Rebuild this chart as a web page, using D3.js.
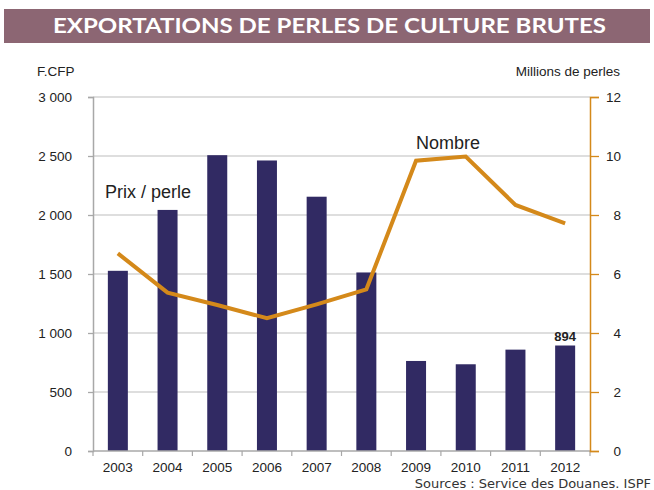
<!DOCTYPE html>
<html>
<head>
<meta charset="utf-8">
<script src="https://cdn.jsdelivr.net/npm/d3@7"></script>
<style>
  body { margin: 0; background: #fff; }
  svg { display: block; font-family: "Liberation Sans", Arial, sans-serif; }
</style>
</head>
<body>
<div id="chart"></div>
<script>
// Data
const years = ["2003", "2004", "2005", "2006", "2007", "2008", "2009", "2010", "2011", "2012"];
const prixParPerle = [1527, 2043, 2507, 2462, 2155, 1513, 763, 735, 859, 894];   // F.CFP (bars)
const nombre = [6.7, 5.37, 4.95, 4.5, 4.97, 5.48, 9.84, 9.98, 8.34, 7.72];       // millions (line)
const leftTicks = [0, 500, 1000, 1500, 2000, 2500, 3000];
const rightTicks = [0, 2, 4, 6, 8, 10, 12];

const W = 654, H = 490;
const margin = { top: 97, right: 64, bottom: 39, left: 93 };
const width = W - margin.left - margin.right;
const height = H - margin.top - margin.bottom;

const svg = d3.select("#chart").append("svg")
    .attr("width", W)
    .attr("height", H);

// Title banner
svg.append("rect")
    .attr("x", 4).attr("y", 9)
    .attr("width", 646).attr("height", 34)
    .attr("fill", "#8c6673");
svg.append("text")
    .attr("x", 53).attr("y", 33)
    .attr("fill", "#fff")
    .attr("font-family", "Lato, 'Open Sans', sans-serif")
    .attr("font-weight", "bold")
    .attr("font-size", 21)
    .attr("textLength", 553)
    .attr("lengthAdjust", "spacingAndGlyphs")
    .text("EXPORTATIONS DE PERLES DE CULTURE BRUTES");

const g = svg.append("g").attr("transform", `translate(${margin.left},${margin.top})`);

const xb = d3.scaleBand().domain(years).range([0, width]);
const yL = d3.scaleLinear().domain([0, 3000]).range([height, 0]);
const yR = d3.scaleLinear().domain([0, 12]).range([height, 0]);

// Gridlines
g.append("g")
    .selectAll("line")
    .data(leftTicks.filter(d => d > 0))
    .join("line")
    .attr("x1", 0).attr("x2", width)
    .attr("y1", d => yL(d)).attr("y2", d => yL(d))
    .attr("stroke", "#d3d3d3")
    .attr("stroke-width", 1.3);

// Bars
g.append("g")
    .selectAll("rect")
    .data(prixParPerle)
    .join("rect")
    .attr("x", (d, i) => xb(years[i]) + xb.bandwidth() / 2 - 10)
    .attr("width", 20)
    .attr("y", d => yL(d))
    .attr("height", d => height - yL(d))
    .attr("fill", "#312a63");

// Left axis
const leftAxis = g.append("g")
    .call(d3.axisLeft(yL).tickValues(leftTicks).tickSize(5).tickPadding(16)
        .tickFormat(d => d3.format(",")(d).replace(",", " ")));
leftAxis.select(".domain").attr("stroke", "#a8a8a8").attr("stroke-width", 1.5);
leftAxis.selectAll(".tick line").attr("stroke", "#a8a8a8").attr("stroke-width", 1.3);
leftAxis.selectAll("text").attr("font-size", 13.5).attr("fill", "#222")
    .attr("font-family", "'Liberation Sans', Arial, sans-serif");

// X axis with ticks between categories
const xAxis = g.append("g").attr("transform", `translate(0,${height})`);
xAxis.append("line")
    .attr("x1", 0).attr("x2", width)
    .attr("stroke", "#a8a8a8").attr("stroke-width", 1.5);
xAxis.selectAll(".bt")
    .data(years.concat(["end"]))
    .join("line")
    .attr("class", "bt")
    .attr("x1", (d, i) => i < years.length ? xb(d) : width)
    .attr("x2", (d, i) => i < years.length ? xb(d) : width)
    .attr("y1", 0).attr("y2", 5)
    .attr("stroke", "#a8a8a8").attr("stroke-width", 1.2);
xAxis.selectAll("text")
    .data(years)
    .join("text")
    .attr("x", d => xb(d) + xb.bandwidth() / 2)
    .attr("y", 21)
    .attr("text-anchor", "middle")
    .attr("font-size", 13.5)
    .attr("fill", "#222")
    .text(d => d);

// Right axis
const rightAxis = g.append("g")
    .attr("transform", `translate(${width},0)`)
    .call(d3.axisRight(yR).tickValues(rightTicks).tickSize(9).tickPadding(0).tickFormat(""));
rightAxis.select(".domain").attr("stroke", "#d4891a").attr("stroke-width", 1.5);
rightAxis.selectAll(".tick line").attr("stroke", "#d4891a").attr("stroke-width", 1.3);
rightAxis.selectAll(".tick").append("text")
    .attr("x", 31).attr("dy", "0.35em")
    .attr("text-anchor", "end")
    .attr("font-size", 13.5)
    .attr("fill", "#222")
    .text(d => d);

// Line
g.append("path")
    .datum(nombre)
    .attr("fill", "none")
    .attr("stroke", "#d4891a")
    .attr("stroke-width", 4)
    .attr("d", d3.line()
        .x((d, i) => xb(years[i]) + xb.bandwidth() / 2)
        .y(d => yR(d)));

// Value label on the last bar
g.append("text")
    .attr("x", xb("2012") + xb.bandwidth() / 2)
    .attr("y", yL(894) - 5)
    .attr("text-anchor", "middle")
    .attr("font-size", 13)
    .attr("font-weight", "bold")
    .attr("fill", "#222")
    .text("894");

// Axis titles and series labels
svg.append("text").attr("x", 37).attr("y", 76)
    .attr("font-size", 13.5).attr("fill", "#222").text("F.CFP");
svg.append("text").attr("x", 620).attr("y", 76)
    .attr("text-anchor", "end")
    .attr("font-size", 13.5).attr("fill", "#222").text("Millions de perles");
svg.append("text").attr("x", 105).attr("y", 198)
    .attr("font-size", 18).attr("fill", "#222").text("Prix / perle");
svg.append("text").attr("x", 416).attr("y", 149)
    .attr("font-size", 18).attr("fill", "#222").text("Nombre");

// Source
svg.append("text").attr("x", 651).attr("y", 488)
    .attr("text-anchor", "end")
    .attr("font-family", "'DejaVu Sans', sans-serif")
    .attr("font-size", 13)
    .attr("fill", "#333")
    .text("Sources : Service des Douanes. ISPF");
</script>
</body>
</html>
